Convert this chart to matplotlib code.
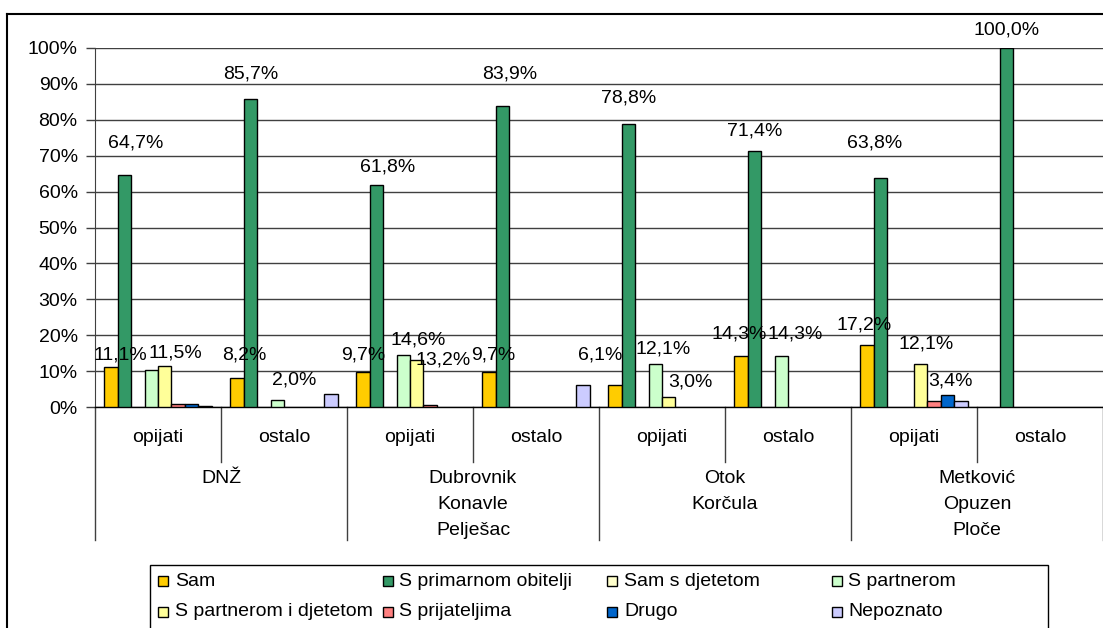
import numpy as np
import matplotlib
matplotlib.use("Agg")
import matplotlib.pyplot as plt
from matplotlib.patches import Rectangle
from matplotlib.lines import Line2D
import matplotlib.transforms as mtransforms

plt.rcParams['font.family'] = ['Liberation Sans', 'DejaVu Sans']

# data (percent)
subgroups = ['opijati', 'ostalo'] * 4
regions = ['DNŽ', 'Dubrovnik\nKonavle\nPelješac', 'Otok\nKorčula', 'Metković\nOpuzen\nPloče']

series = ['Sam', 'S primarnom obitelji', 'Sam s djetetom', 'S partnerom',
          'S partnerom i djetetom', 'S prijateljima', 'Drugo', 'Nepoznato']
colors = ['#FFCC00', '#339966', '#FFFFCC', '#CCFFCC',
          '#FFFF99', '#FF8080', '#0066CC', '#CCCCFF']

sam = [11.1, 8.2, 9.7, 9.7, 6.1, 14.3, 17.2, 0]
primarna = [64.7, 85.7, 61.8, 83.9, 78.8, 71.4, 63.8, 100.0]
sam_dijete = [0, 0, 0, 0, 0, 0, 0, 0]
partner = [10.4, 2.0, 14.6, 0, 12.1, 14.3, 0, 0]
partner_dijete = [11.5, 0, 13.2, 0, 3.0, 0, 12.1, 0]
prijatelji = [0.8, 0, 0.7, 0, 0, 0, 1.7, 0]
drugo = [0.8, 0, 0, 0, 0, 0, 3.4, 0]
nepoznato = [0.4, 3.7, 0, 6.1, 0, 0, 1.7, 0]

values = [sam, primarna, sam_dijete, partner, partner_dijete, prijatelji, drugo, nepoznato]

# data labels shown in the chart: (series, group) -> nudge of label centre (px right, px above bar top)
label_nudge = {
    (0, 0): (10, 12), (1, 0): (11, 32), (4, 0): (11, 13),
    (0, 1): (7, 23), (1, 1): (0, 25), (3, 1): (17, 20),
    (0, 2): (0, 17), (1, 2): (11, 18), (3, 2): (15, 15), (4, 2): (26, 0),
    (0, 3): (4, 17), (1, 3): (7, 32),
    (0, 4): (-15, 30), (1, 4): (0, 26), (3, 4): (8, 15), (4, 4): (22, 15),
    (0, 5): (-2, 22), (1, 5): (0, 20), (3, 5): (14, 22),
    (0, 6): (-3, 20), (1, 6): (-6, 35), (4, 6): (5, 20), (6, 6): (3, 14),
    (1, 7): (0, 18),
}

W, H = 1103, 628
fig = plt.figure(figsize=(W / 100, H / 100), dpi=100)

def fx(px):
    return px / W

def fy(py):
    return 1 - py / H

y0, y100 = 407.3, 47.7
ax = fig.add_axes([fx(95), fy(y0), fx(1103 - 95), (y0 - y100) / H])

n = len(values)
w = 0.107
x = np.arange(8) + 0.5
fs = 14

for i, (vals, col) in enumerate(zip(values, colors)):
    v = np.array(vals, dtype=float)
    pos = x + (i - (n - 1) / 2) * w
    mask = v > 0
    ax.bar(pos[mask], v[mask], width=w, color=col, edgecolor='black', linewidth=1.0, zorder=3)
    for g in range(8):
        if (i, g) in label_nudge:
            dx, dy = label_nudge[(i, g)]
            ax.annotate(f"{v[g]:.1f}%".replace('.', ','), (pos[g], v[g]),
                        xytext=(dx * 0.72, dy * 0.72), textcoords='offset points',
                        ha='center', va='center', fontsize=fs, zorder=5)

ax.set_xlim(0, 8)
ax.set_ylim(0, 100)
ax.set_yticks(np.arange(0, 101, 10))
ax.set_yticklabels([f"{t}%" for t in range(0, 101, 10)], fontsize=fs)
ax.tick_params(axis='y', length=6.5, width=1, pad=6, color='#404040')
ax.set_xticks([])
ax.yaxis.grid(True, color='#404040', linewidth=1.0, zorder=0)
ax.set_axisbelow(True)
for s in ['top', 'right']:
    ax.spines[s].set_visible(False)
ax.spines['left'].set_color('#404040')
ax.spines['bottom'].set_color('black')
ax.spines['bottom'].set_linewidth(1.0)

# two-level category axis
trans = mtransforms.blended_transform_factory(ax.transData, ax.transAxes)
ah = y0 - y100
short = -(462 - y0) / ah
long = -(540 - y0) / ah
for b in range(9):
    yend = long if b % 2 == 0 else short
    ax.add_line(Line2D([b, b], [0, yend], transform=trans, color='#404040',
                       linewidth=1.0, clip_on=False))
for g, lab in enumerate(subgroups):
    ax.text(x[g], -(437 - y0) / ah, lab, transform=trans, ha='center', va='center', fontsize=fs)
for r, lab in enumerate(regions):
    ax.text(2 * r + 1, -(470 - y0) / ah, lab, transform=trans, ha='center', va='top',
            fontsize=fs, linespacing=1.68)

# outer chart border (top and left visible)
fig.add_artist(Line2D([fx(7), fx(7)], [fy(14), fy(H + 5)], color='black', linewidth=1.5))
fig.add_artist(Line2D([fx(7), fx(W + 5)], [fy(14), fy(14)], color='black', linewidth=1.5))

# legend, row-wise like the original
lx0, ly0, lx1, ly1 = 150, 565, 1048, 660
fig.add_artist(Rectangle((fx(lx0), fy(ly1)), fx(lx1 - lx0), (ly1 - ly0) / H,
                         facecolor='none', edgecolor='black', linewidth=1.0))
pitch = 224.5
for k, (name, col) in enumerate(zip(series, colors)):
    row, c = divmod(k, 4)
    cx = 158 + c * pitch
    cy = 581 + row * 31
    fig.add_artist(Rectangle((fx(cx), fy(cy + 5)), fx(10), 10 / H,
                             facecolor=col, edgecolor='black', linewidth=1.0))
    fig.text(fx(cx + 17), fy(cy), name, ha='left', va='center', fontsize=fs)

fig.savefig('out.png', dpi=100)
